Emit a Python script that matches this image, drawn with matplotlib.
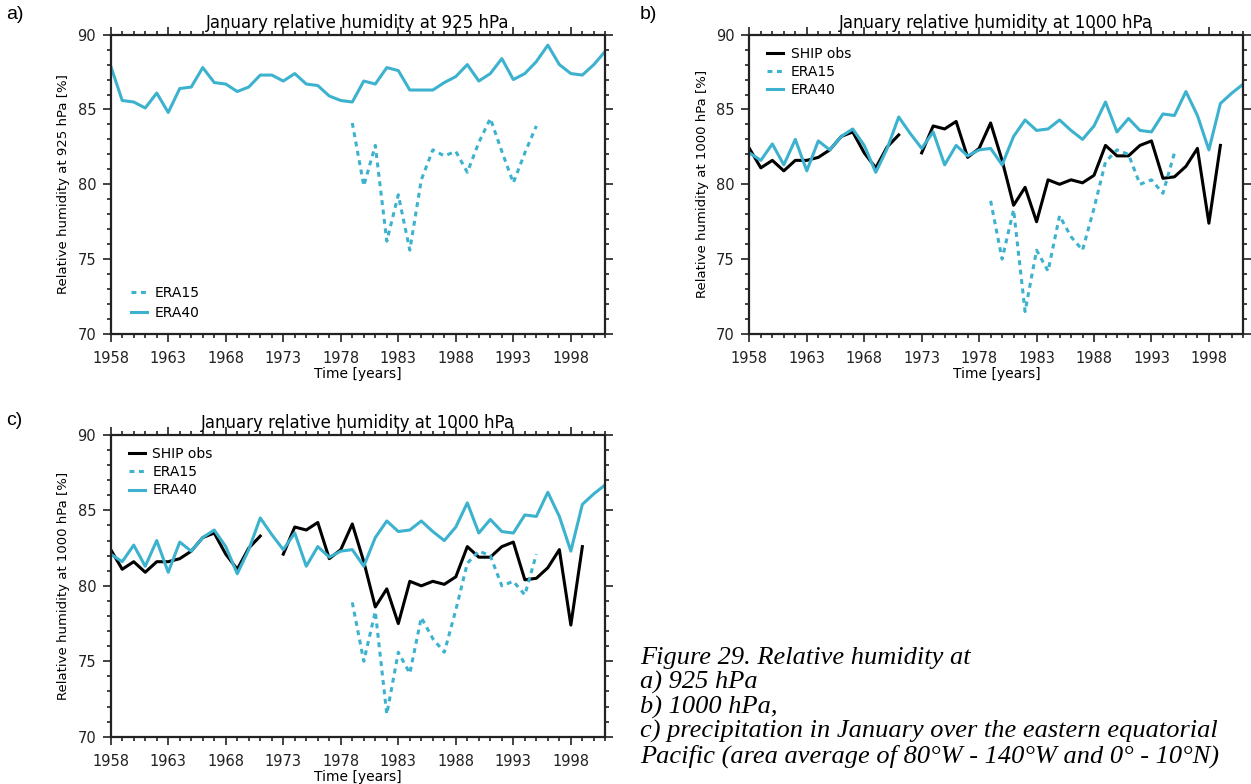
import numpy as np
import matplotlib.pyplot as plt

# January relative humidity, eastern equatorial Pacific
years = np.arange(1958, 2002)
years_era15 = np.arange(1979, 1996)

# 925 hPa
era40_925 = [87.9, 85.6, 85.5, 85.1, 86.1, 84.8, 86.4, 86.5, 87.8, 86.8,
             86.7, 86.2, 86.5, 87.3, 87.3, 86.9, 87.4, 86.7, 86.6, 85.9,
             85.6, 85.5, 86.9, 86.7, 87.8, 87.6, 86.3, 86.3, 86.3, 86.8,
             87.2, 88.0, 86.9, 87.4, 88.4, 87.0, 87.4, 88.2, 89.3, 88.0,
             87.4, 87.3, 88.0, 88.9]
era15_925 = [84.1, 79.9, 82.6, 76.2, 79.3, 75.6, 80.3, 82.3, 81.9, 82.2,
             80.8, 82.8, 84.4, 82.2, 80.1, 82.1, 83.9]

# 1000 hPa
era40_1000 = [82.1, 81.6, 82.7, 81.3, 83.0, 80.9, 82.9, 82.3, 83.2, 83.7,
              82.6, 80.8, 82.4, 84.5, 83.4, 82.4, 83.5, 81.3, 82.6, 81.9,
              82.3, 82.4, 81.3, 83.2, 84.3, 83.6, 83.7, 84.3, 83.6, 83.0,
              83.9, 85.5, 83.5, 84.4, 83.6, 83.5, 84.7, 84.6, 86.2, 84.6,
              82.3, 85.4, 86.1, 86.7]
ship_1000 = [82.4, 81.1, 81.6, 80.9, 81.6, 81.6, 81.8, 82.3, 83.2, 83.5,
             82.1, 81.1, 82.5, 83.3, np.nan, 82.1, 83.9, 83.7, 84.2, 81.8,
             82.4, 84.1, 81.6, 78.6, 79.8, 77.5, 80.3, 80.0, 80.3, 80.1,
             80.6, 82.6, 81.9, 81.9, 82.6, 82.9, 80.4, 80.5, 81.2, 82.4,
             77.4, 82.6, np.nan, np.nan]
era15_1000 = [78.9, 75.0, 78.3, 71.5, 75.6, 74.2, 77.9, 76.5, 75.6, 78.4,
              81.5, 82.3, 82.0, 80.0, 80.3, 79.4, 82.1]

cyan = "#3db2cf"
dash = (0, (1.6, 1.5))
xticks = np.arange(1958, 2001, 5)

W, H = 1251, 784
fig = plt.figure(figsize=(W / 100, H / 100), dpi=100)


def setup(ax, level):
    ax.set_xlim(1958, 2001)
    ax.set_ylim(70, 90)
    ax.set_xticks(xticks)
    ax.set_xticks(np.arange(1958, 2002), minor=True)
    ax.set_yticks(np.arange(70, 91, 5))
    ax.set_yticks(np.arange(70, 91, 1), minor=True)
    ax.tick_params(which="both", direction="out", top=True, right=True,
                   width=1.2, colors="#222222")
    ax.tick_params(which="major", length=6)
    ax.tick_params(which="minor", length=3)
    ax.tick_params(axis="x", which="major", pad=6.5, labelsize=10.5)
    ax.tick_params(axis="y", which="major", pad=4.5, labelsize=10.5)
    for s in ax.spines.values():
        s.set_linewidth(1.6)
        s.set_color("#222222")
    ax.set_xlabel("Time [years]", fontsize=10, labelpad=0.5)
    ax.set_ylabel("Relative humidity at %s hPa [%%]" % level, fontsize=9.5, labelpad=5)
    ax.set_title("January relative humidity at %s hPa" % level,
                 fontsize=12, y=1.0, pad=5)


def legend(ax, loc, anchor, gap):
    ax.legend(loc=loc, bbox_to_anchor=anchor, frameon=False, fontsize=10,
              handlelength=1.15, handletextpad=0.55, labelspacing=gap,
              borderaxespad=0)


# panel a: 925 hPa
ax_a = fig.add_axes([0.0885, 0.574, 0.3954, 0.3818])
ax_a.plot(years_era15, era15_925, color=cyan, lw=2.2, ls=dash, label="ERA15")
ax_a.plot(years, era40_925, color=cyan, lw=2.2, label="ERA40")
setup(ax_a, "925")
legend(ax_a, "lower left", (0.03, 0.028), 0.45)


def panel_1000(rect):
    ax = fig.add_axes(rect)
    ax.plot(years, ship_1000, color="black", lw=2.2, label="SHIP obs")
    ax.plot(years_era15, era15_1000, color=cyan, lw=2.2, ls=dash, label="ERA15")
    ax.plot(years, era40_1000, color=cyan, lw=2.2, label="ERA40")
    setup(ax, "1000")
    legend(ax, "upper left", (0.025, 0.978), 0.3)
    return ax


ax_b = panel_1000([0.599, 0.574, 0.3949, 0.3818])
ax_c = panel_1000([0.0885, 0.0603, 0.3954, 0.3849])

for x, y, lab in [(6, 6, "a)"), (640, 6, "b)"), (6, 412, "c)")]:
    fig.text(x / W, 1 - y / H, lab, fontsize=14, family="Liberation Sans", va="top")

caption = ["Figure 29. Relative humidity at",
           "a) 925 hPa",
           "b) 1000 hPa,",
           "c) precipitation in January over the eastern equatorial",
           "Pacific (area average of 80°W - 140°W and 0° - 10°N)"]
for i, line in enumerate(caption):
    fig.text(640 / W, 1 - (658 + 24.5 * i) / H, line, fontsize=19,
             family="Liberation Serif", style="italic", va="center")

plt.savefig("out.png", dpi=100)
